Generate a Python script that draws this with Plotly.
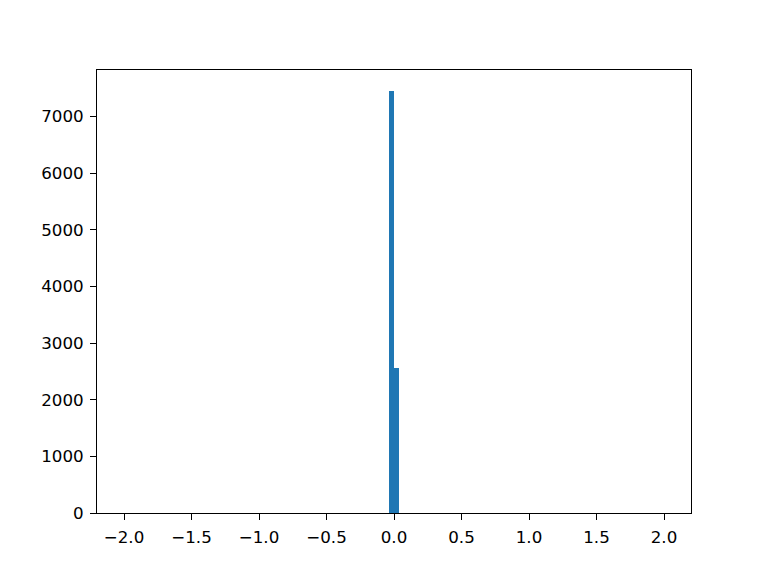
import plotly.graph_objects as go

# histogram: 100 bins over [-2, 2], only two bins are non-empty
bin_left = [-0.04, 0.0]
bin_width = 0.04
counts = [7448, 2557]

x_ticks = [-2.0, -1.5, -1.0, -0.5, 0.0, 0.5, 1.0, 1.5, 2.0]
y_ticks = [0, 1000, 2000, 3000, 4000, 5000, 6000, 7000]

centers = [b + bin_width / 2 for b in bin_left]

fig = go.Figure(go.Bar(
    x=centers, y=counts, width=[bin_width] * len(counts),
    marker=dict(color="#1f77b4", line=dict(width=0)),
))

axis_style = dict(
    showline=True, linecolor="black", linewidth=1, mirror=True,
    ticks="outside", ticklen=6, tickwidth=1, tickcolor="black",
    showgrid=False, zeroline=False, automargin=False,
    ticklabelstandoff=3,
    tickfont=dict(family="DejaVu Sans", size=16.7, color="black"),
)

# page body offsets the figure by ~7px, compensated in the margins
fig.update_layout(
    width=768, height=576,
    margin=dict(l=89, r=85, t=62, b=71),
    plot_bgcolor="white", paper_bgcolor="white",
    bargap=0, showlegend=False,
    xaxis=dict(range=[-2.2, 2.2], tickvals=x_ticks,
               ticktext=[f"{v:.1f}".replace("-", "\u2212") for v in x_ticks],
               **axis_style),
    yaxis=dict(range=[0, 7820], tickvals=y_ticks,
               ticktext=[str(v) for v in y_ticks], **axis_style),
)

fig.write_html("out.html")
